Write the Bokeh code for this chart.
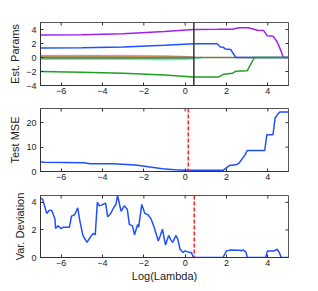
import math
from bokeh.plotting import figure
from bokeh.layouts import column
from bokeh.models import Span, FixedTicker, Range1d
from bokeh.embed import file_html
from bokeh.resources import INLINE

# ---------------- data ----------------
x_ticks = [-6, -4, -2, 0, 2, 4]

# coefficient paths (Log(Lambda), value)
purple_x = [-7, -5, -3, -1, 0.4, 1.6, 2.3, 2.6, 3.05, 3.5, 3.8, 3.97, 4.25, 4.45, 4.6, 4.75, 5]
purple_y = [3.2, 3.25, 3.4, 3.7, 4.0, 4.02, 4.05, 4.25, 4.25, 3.9, 3.85, 3.1, 3.05, 2.25, 1.2, 0.0, 0.0]
blue_x = [-7, -5, -3, -1, 0.4, 1.55, 1.7, 1.85, 1.95, 2.2, 2.45, 5]
blue_y = [1.35, 1.4, 1.5, 1.75, 1.98, 1.98, 1.5, 1.45, 1.2, 1.15, 0.0, 0.0]
green_x = [-7, -5, -3, -1, 0.4, 1.6, 1.85, 2.3, 2.45, 3.0, 3.35, 5]
green_y = [-2.0, -2.1, -2.25, -2.5, -2.8, -2.8, -2.4, -2.25, -1.95, -1.9, 0.0, 0.0]
red_x = [-7, -4, -2, 0, 0.4]
red_y = [0.2, 0.2, 0.15, 0.05, 0.0]
pink_x = [-7, -3, -1, 0, 0.4]
pink_y = [0.25, 0.25, 0.22, 0.1, 0.0]
orange_x = [-7, -3, -1, 0.2]
orange_y = [0.1, 0.12, 0.06, 0.0]
cyan_x = [-7, -3, -1, 0.2, 0.8]
cyan_y = [-0.2, -0.22, -0.28, -0.2, 0.0]
teal_x = [-7, -3, 0, 0.5]
teal_y = [-0.1, -0.12, -0.1, 0.0]
dgreen_x = [-7, -4, -2, 0.3]
dgreen_y = [-0.05, -0.05, -0.06, 0.0]
olive_x = [-7, 5]
olive_y = [0.0, 0.0]
lambda_params = 0.42

# test MSE
mse_x = [-7, -6.8, -4.9, -4.6, -3.5, -2.4, -1.7, -1.1, -0.5, 0.0, 1.85, 2.15, 2.5, 2.6, 2.9, 3.0,
         3.85, 3.95, 4.25, 4.35, 4.5, 4.6, 5]
mse_y = [3.85, 3.8, 3.6, 3.2, 3.15, 2.7, 1.8, 1.1, 0.7, 0.55, 0.55, 2.5, 2.9, 3.4, 6.8, 8.6,
         8.6, 15.0, 15.0, 21.9, 23.7, 24.4, 24.4]
lambda_mse = 0.15

# variable deviation
vd_x = [-7, -6.9, -6.7, -6.56, -6.45, -6.3, -6.27, -6.15, -6.0, -5.9, -5.6, -5.5, -5.35, -5.2, -5.1,
        -4.95, -4.75, -4.6, -4.45, -4.35, -4.25, -4.15, -4.05, -3.85, -3.75, -3.6, -3.45, -3.35,
        -3.27, -3.1, -2.95, -2.8, -2.7, -2.55, -2.45, -2.3, -2.25, -2.1, -1.95, -1.8, -1.65, -1.5,
        -1.3, -1.2, -1.1, -0.95, -0.8, -0.7, -0.6, -0.45, -0.35, -0.25, -0.1, 0.0, 0.2, 0.3, 0.4,
        1.83, 2.0, 2.2, 2.65, 2.7, 2.8, 2.95, 3.0, 3.9, 3.98, 4.3, 4.45, 4.55, 4.65, 5]
vd_y = [4.3, 4.24, 3.2, 3.44, 3.4, 2.8, 2.1, 2.3, 2.1, 2.2, 2.2, 3.0, 3.1, 3.6, 2.7,
        1.6, 1.1, 1.45, 1.75, 1.65, 4.0, 3.75, 3.8, 3.95, 2.95, 3.2, 3.65, 3.85,
        4.5, 3.35, 3.75, 3.5, 2.4, 2.3, 1.65, 2.4, 2.2, 3.85, 3.2, 3.1, 2.8, 2.2,
        1.2, 1.6, 2.05, 0.9, 1.6, 1.3, 1.1, 1.6, 1.3, 0.6, 0.37, 0.48, 0.37, 0.37, 0.0,
        0.0, 0.48, 0.55, 0.53, 0.48, 0.55, 0.37, 0.0, 0.0, 0.48, 0.48, 0.6, 0.37, 0.0, 0.0]
lambda_vd = 0.44

# ---------------- styling ----------------
FONT = "Liberation Sans"
XR = (-7, 5)


def style_axis(ax, ticks):
    ax.ticker = FixedTicker(ticks=ticks)
    ax.major_tick_in = 3
    ax.major_tick_out = 0
    ax.minor_tick_line_color = None
    ax.axis_line_color = "#333333"
    ax.major_tick_line_color = "#333333"
    ax.major_label_text_font = FONT
    ax.major_label_text_font_size = "9px"
    ax.major_label_text_color = "#222222"
    ax.major_label_standoff = 2
    ax.axis_label_text_font = FONT
    ax.axis_label_text_font_size = "11px"
    ax.axis_label_text_font_style = "normal"
    ax.axis_label_text_color = "#222222"
    ax.axis_label_standoff = 3


def make_fig(ylim, yticks, ylabel, top, bottom, fh, xlabel=None):
    p = figure(frame_width=248, frame_height=fh, output_backend="svg", toolbar_location=None,
               x_range=Range1d(*XR), y_range=Range1d(*ylim),
               min_border_left=40, min_border_right=26, min_border_top=top, min_border_bottom=bottom)
    p.grid.visible = False
    p.outline_line_color = "#555555"
    p.outline_line_width = 1
    p.background_fill_color = "white"
    p.border_fill_color = "white"
    xa = p.xaxis[0]
    ya = p.yaxis[0]
    style_axis(xa, x_ticks)
    style_axis(ya, yticks)
    ya.axis_label = ylabel
    ya.major_label_standoff = 4
    ya.axis_label_standoff = 2
    if xlabel:
        xa.axis_label = xlabel
        xa.axis_label_standoff = 1
    # mirrored ticks on top and right edges (clipped dashes at the frame edge)
    p.scatter(x_ticks, [ylim[1]] * len(x_ticks), marker="dash", size=6, angle=math.pi / 2,
              line_color="#333333", line_width=1)
    p.scatter([XR[1]] * len(yticks), yticks, marker="dash", size=6,
              line_color="#333333", line_width=1)
    return p


p1 = make_fig((-4, 5), [-4, -2, 0, 2, 4], "Est. Params", 22, 15, 63)
small = [(red_x, red_y, "#ff5050"), (pink_x, pink_y, "#e080e0"), (orange_x, orange_y, "#e0a040"),
         (cyan_x, cyan_y, "#40f0c0"), (teal_x, teal_y, "#40a0a0"), (dgreen_x, dgreen_y, "#50a050")]
for xs, ys, c in small:
    p1.line(xs, ys, line_color=c, line_width=2, line_alpha=0.7)
p1.line(olive_x, olive_y, line_color="#7a7a3a", line_width=1.5)
p1.line(purple_x, purple_y, line_color="#a020f0", line_width=1.5)
p1.line(blue_x, blue_y, line_color="#2050ff", line_width=1.5)
p1.line(green_x, green_y, line_color="#20a020", line_width=1.5)
p1.add_layout(Span(location=lambda_params, dimension="height", line_color="#333333", line_width=1.5))

p2 = make_fig((0, 25.8), [0, 10, 20], "Test MSE", 8, 15, 63)
p2.line(mse_x, mse_y, line_color="#2050ff", line_width=1.5)
p2.add_layout(Span(location=lambda_mse, dimension="height", line_color="#ff2020",
                   line_width=1.5, line_dash="4 2"))

p3 = make_fig((0, 4.5), [0, 2, 4], "Var. Deviation", 9, 24, 62, xlabel="Log(Lambda)")
p3.line(vd_x, vd_y, line_color="#2050ff", line_width=1.5)
p3.add_layout(Span(location=lambda_vd, dimension="height", line_color="#ff2020",
                   line_width=1.5, line_dash="4 2"))

layout = column(p1, p2, p3, spacing=0)
open("out.html", "w").write(file_html(layout, INLINE))
